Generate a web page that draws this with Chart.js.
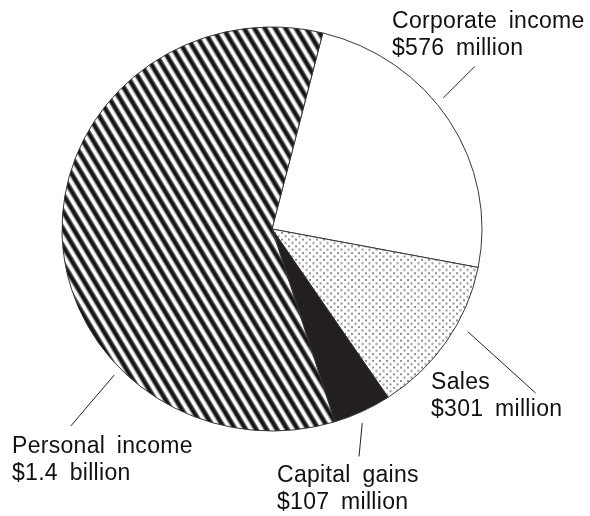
<!DOCTYPE html>
<html>
<head>
<meta charset="utf-8">
<script src="https://cdn.jsdelivr.net/npm/chart.js@4/dist/chart.umd.min.js"></script>
<style>
  html, body { margin: 0; padding: 0; background: #ffffff; }
  #wrap { width: 590px; height: 516px; }
</style>
</head>
<body>
<div id="wrap"><canvas id="pie" width="590" height="516"></canvas></div>
<script>
// Tax revenue by source (millions of dollars)
const categories = ['Corporate income', 'Sales', 'Capital gains', 'Personal income'];
const revenue = [576, 301, 107, 1400];
const valueLabels = ['$576 million', '$301 million', '$107 million', '$1.4 billion'];

// Label placement: text anchor (px) and leader line (angle in degrees from top, radius in px)
const labelLayout = [
  { x: 392, y: 28,  line: [[51.5, 219], [50.2, 264]] },
  { x: 431, y: 389, line: [[118.6, 223], [122.9, 314]] },
  { x: 277, y: 482, line: [[155.9, 221], [159.8, 252]] },
  { x: 12,  y: 453, line: [[226.1, 219], [224.5, 287]] }
];

const ySquash = 0.962;   // the pie is drawn slightly flattened vertically

function stripePattern(ctx) {
  const d = 9;
  const t = document.createElement('canvas');
  t.width = d; t.height = d;
  const c = t.getContext('2d');
  c.fillStyle = '#ffffff';
  c.fillRect(0, 0, d, d);
  const g = c.createLinearGradient(0, 0, d, 0);
  g.addColorStop(0.0, '#ffffff');
  g.addColorStop(0.12, '#555555');
  g.addColorStop(0.25, '#111111');
  g.addColorStop(0.45, '#111111');
  g.addColorStop(0.6, '#666666');
  g.addColorStop(0.72, '#ffffff');
  g.addColorStop(1.0, '#ffffff');
  c.fillStyle = g;
  c.fillRect(0, 0, d, d);
  const p = ctx.createPattern(t, 'repeat');
  p.setTransform(new DOMMatrix().rotate(-30));
  return p;
}

function dotPattern(ctx) {
  const s = 7;
  const t = document.createElement('canvas');
  t.width = s; t.height = s;
  const c = t.getContext('2d');
  c.fillStyle = '#ffffff';
  c.fillRect(0, 0, s, s);
  c.fillStyle = '#8a8a8a';
  c.fillRect(1, 1, 2, 2);
  c.fillRect(4.5, 4.5, 2, 2);
  return ctx.createPattern(t, 'repeat');
}

const cv = document.getElementById('pie');
const ctx0 = cv.getContext('2d');
const fills = ['#ffffff', dotPattern(ctx0), '#231f20', stripePattern(ctx0)];

const squashPlugin = {
  id: 'squash',
  beforeDatasetsDraw(chart) {
    const a = chart.getDatasetMeta(0).data[0];
    const c = chart.ctx;
    c.save();
    c.translate(a.x, a.y);
    c.scale(1, ySquash);
    c.translate(-a.x, -a.y);
  },
  afterDatasetsDraw(chart) {
    chart.ctx.restore();
  }
};

const labelPlugin = {
  id: 'sliceLabels',
  afterDraw(chart) {
    const a = chart.getDatasetMeta(0).data[0];
    const c = chart.ctx;
    c.save();
    c.strokeStyle = '#222222';
    c.lineWidth = 1;
    labelLayout.forEach((lay, i) => {
      const pts = lay.line.map(([deg, r]) => {
        const rad = deg * Math.PI / 180;
        return [a.x + r * Math.sin(rad), a.y - r * Math.cos(rad) * ySquash];
      });
      c.beginPath();
      c.moveTo(pts[0][0], pts[0][1]);
      c.lineTo(pts[1][0], pts[1][1]);
      c.stroke();
    });
    c.fillStyle = '#111111';
    c.font = '23px "Liberation Sans", Arial, sans-serif';
    c.textBaseline = 'alphabetic';
    c.textAlign = 'left';
    if ('letterSpacing' in c) c.letterSpacing = '0.3px';
    if ('wordSpacing' in c) c.wordSpacing = '5px';
    labelLayout.forEach((lay, i) => {
      c.fillText(categories[i], lay.x, lay.y);
      c.fillText(valueLabels[i], lay.x, lay.y + 27);
    });
    c.restore();
  }
};

new Chart(cv, {
  type: 'pie',
  data: {
    labels: categories,
    datasets: [{
      data: revenue,
      backgroundColor: fills,
      borderColor: '#333333',
      borderWidth: 1,
      hoverOffset: 0
    }]
  },
  options: {
    responsive: false,
    animation: false,
    rotation: 14,
    layout: { padding: { top: 18.5, bottom: 76.5, left: 61.5, right: 107.5 } },
    events: [],
    plugins: {
      legend: { display: false },
      tooltip: { enabled: false }
    }
  },
  plugins: [squashPlugin, labelPlugin]
});
</script>
</body>
</html>
